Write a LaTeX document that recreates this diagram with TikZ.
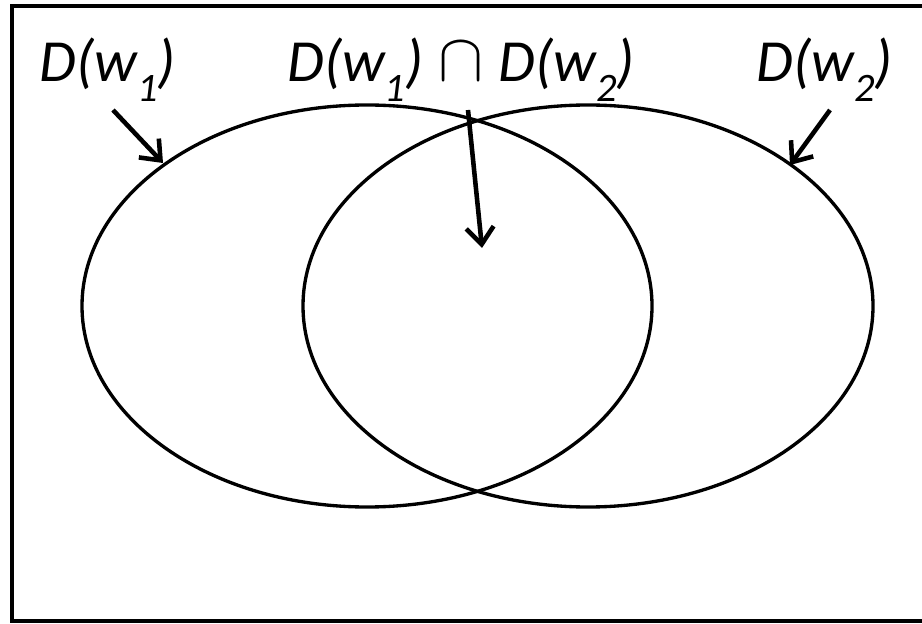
\documentclass[tikz,border=0pt]{standalone}
\usepackage{fontspec}
\setmainfont{Carlito}
\usepackage{graphicx}
\usetikzlibrary{arrows.meta}

\newcommand{\wsub}[1]{\raisebox{-0.32em}{\fontsize{23}{23}\selectfont #1}}
\newcommand{\setD}[1]{D(w\wsub{#1})}
\newcommand{\bigcapsym}{\raisebox{0.02em}{\scalebox{1.55}{$\cap$}}}

\tikzset{
  setlabel/.style={anchor=base, font=\fontsize{34}{40}\selectfont\itshape, inner sep=0pt},
  setline/.style={line width=1.9pt},
  pointer/.style={line width=2.6pt, -{Straight Barb[length=0.34cm, width=0.55cm, line width=2.6pt]}}
}

\begin{document}
\begin{tikzpicture}[x=0.02cm, y=-0.02cm]
    \useasboundingbox (0,0) rectangle (922,624);
    \clip (0,0) rectangle (922,624);

    % frame
    \draw[line width=2.4pt] (12,6) rectangle (940,621);

    % the two sets
    \draw[setline] (367,306) ellipse (285 and 201);
    \draw[setline] (588,306) ellipse (285 and 201);

    % labels
    \node[setlabel] (dw1) at (108,82) {\setD{1}};
    \node[setlabel] (dcap) at (461,82) {\setD{1}\hspace{0.25em}\bigcapsym\hspace{0.25em}\setD{2}};
    \node[setlabel] (dw2) at (825,82) {\setD{2}};

    % arrow ends
    \coordinate (tip1) at (163,163);
    \coordinate (tipcap) at (482,248);
    \coordinate (tip2) at (790,165);
    \coordinate (start1) at (113,110);
    \coordinate (startcap) at (468,110);
    \coordinate (start2) at (830,110);

    \draw[pointer] (start1) -- (tip1);
    \draw[pointer] (startcap) -- (tipcap);
    \draw[pointer] (start2) -- (tip2);
\end{tikzpicture}
\end{document}
